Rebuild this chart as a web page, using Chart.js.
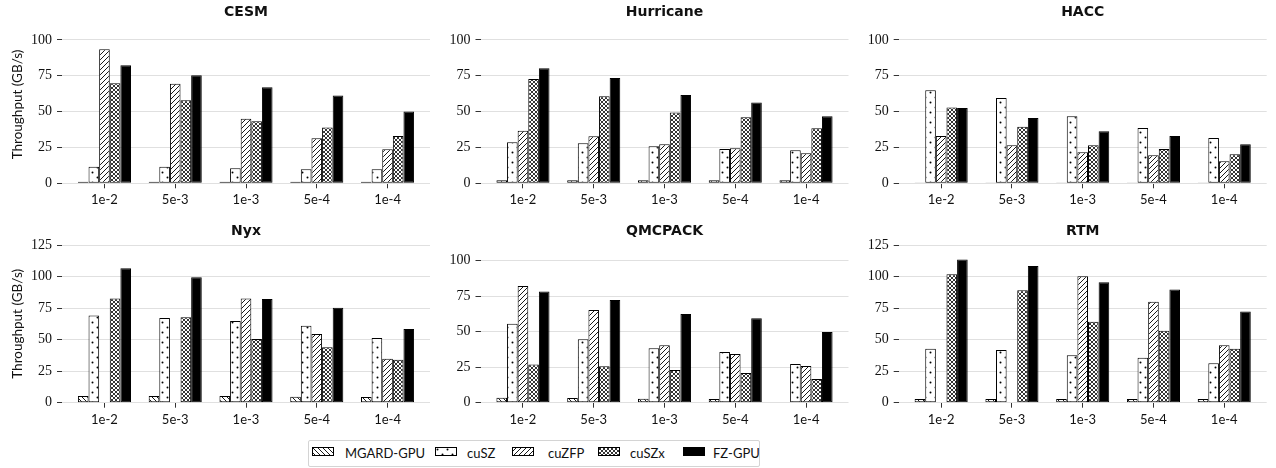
<!DOCTYPE html>
<html>
<head>
<meta charset="utf-8">
<script src="https://cdn.jsdelivr.net/npm/chart.js@4/dist/chart.umd.min.js"></script>
<style>
  html, body { margin: 0; padding: 0; background: #fff; }
  #fig { position: relative; width: 1276px; height: 468px; overflow: hidden; }
  #fig canvas.plot { position: absolute; }
  #legend { position: absolute; left: 308px; top: 440px; width: 452px; height: 27px; box-sizing: border-box;
            border: 1px solid #d4d4d4; border-radius: 2px; font-family: Lato, sans-serif; font-size: 13px; color: #111; }
  #legend canvas { position: absolute; top: 6px; }
  #legend span { position: absolute; top: 4px; line-height: 16px; white-space: nowrap; }
</style>
</head>
<body>
<div id="fig">
  <div id="legend"></div>
</div>
<script>
const errorBounds = ['1e-2', '5e-3', '1e-3', '5e-4', '1e-4'];
const compressors = ['MGARD-GPU', 'cuSZ', 'cuZFP', 'cuSZx', 'FZ-GPU'];
const ticksTop = [0, 25, 50, 75, 100];
const ticksBig = [0, 25, 50, 75, 100, 125];

// throughput in GB/s, one value per error bound
const cesmMgard = [1.1, 1.1, 1.1, 1.1, 1.1];
const cesmCusz  = [11.6, 11.6, 10.5, 9.8, 9.8];
const cesmCuzfp = [93.5, 69.5, 45.0, 31.4, 23.7];
const cesmCuszx = [69.8, 58.0, 43.3, 39.0, 33.0];
const cesmFzgpu = [82.3, 75.3, 67.0, 61.2, 50.0];

const hurrMgard = [2.1, 2.1, 2.1, 2.1, 2.1];
const hurrCusz  = [28.6, 27.9, 25.8, 24.0, 23.0];
const hurrCuzfp = [36.7, 32.8, 27.2, 24.4, 21.0];
const hurrCuszx = [72.8, 60.7, 49.3, 46.0, 38.4];
const hurrFzgpu = [80.2, 73.5, 61.6, 56.3, 46.7];

const haccMgard = [0.5, 0.5, 0.5, 0.5, 0.5];
const haccCusz  = [64.9, 59.5, 46.7, 38.6, 31.6];
const haccCuzfp = [33.0, 26.5, 21.6, 19.5, 15.3];
const haccCuszx = [52.8, 39.5, 26.5, 24.0, 20.2];
const haccFzgpu = [52.6, 45.6, 36.3, 33.0, 27.2];

const nyxMgard = [5.3, 5.3, 5.3, 4.8, 4.5];
const nyxCusz  = [69.2, 67.1, 64.7, 61.0, 51.3];
const nyxCuzfp = [null, null, 82.5, 54.4, 34.9];
const nyxCuszx = [82.5, 67.7, 50.5, 43.9, 34.1];
const nyxFzgpu = [106.5, 99.4, 82.2, 75.3, 58.4];

const qmcMgard = [3.5, 3.3, 2.8, 2.6, null];
const qmcCusz  = [55.6, 44.6, 38.3, 35.7, 27.2];
const qmcCuzfp = [82.2, 65.3, 40.4, 34.3, 25.8];
const qmcCuszx = [26.8, 25.6, 23.0, 20.9, 16.7];
const qmcFzgpu = [78.2, 72.3, 62.4, 59.4, 49.8];

const rtmMgard = [2.9, 2.9, 2.9, 2.9, 2.9];
const rtmCusz  = [42.7, 41.7, 37.7, 35.6, 31.3];
const rtmCuzfp = [null, null, 100.3, 80.1, 45.6];
const rtmCuszx = [101.9, 89.2, 64.2, 57.0, 42.7];
const rtmFzgpu = [113.6, 108.3, 95.5, 89.7, 72.2];

const hatchKinds = ['back', 'dots', 'slash', 'cross', 'solid'];

function makeFill(ctx, kind) {
  if (kind === 'solid') return '#000';
  const t = document.createElement('canvas');
  const s = kind === 'dots' ? 10 : (kind === 'cross' ? 4 : 5);
  t.width = s; t.height = s;
  const g = t.getContext('2d');
  g.fillStyle = '#fff';
  g.fillRect(0, 0, s, s);
  g.strokeStyle = '#000';
  g.fillStyle = '#000';
  g.lineWidth = kind === 'cross' ? 0.8 : 0.9;
  const back = () => {
    g.beginPath();
    g.moveTo(-1, -1); g.lineTo(s + 1, s + 1);
    g.moveTo(s - 1, -1); g.lineTo(s + 1, 1);
    g.moveTo(-1, s - 1); g.lineTo(1, s + 1);
    g.stroke();
  };
  const slash = () => {
    g.beginPath();
    g.moveTo(-1, s + 1); g.lineTo(s + 1, -1);
    g.moveTo(-1, 1); g.lineTo(1, -1);
    g.moveTo(s - 1, s + 1); g.lineTo(s + 1, s - 1);
    g.stroke();
  };
  if (kind === 'back') back();
  if (kind === 'slash') slash();
  if (kind === 'cross') { back(); slash(); }
  if (kind === 'dots') {
    g.beginPath(); g.arc(2.5, 2.5, 1.0, 0, Math.PI * 2); g.fill();
    g.beginPath(); g.arc(7.5, 7.5, 1.0, 0, Math.PI * 2); g.fill();
  }
  return ctx.createPattern(t, 'repeat');
}

const plotW = 368;
const titleSize = 14;
const titleBox = titleSize * 1.2 + 5;
const fig = document.getElementById('fig');

const panels = [
  { title: 'CESM', series: [cesmMgard, cesmCusz, cesmCuzfp, cesmCuszx, cesmFzgpu], yMax: 110, yTicks: ticksTop,
    x: 0, y: 0, w: 434, h: 212, plotLeft: 62, plotTop: 25.6, plotBottom: 183.3, ylabel: true },
  { title: 'Hurricane', series: [hurrMgard, hurrCusz, hurrCuzfp, hurrCuszx, hurrFzgpu], yMax: 110, yTicks: ticksTop,
    x: 440, y: 0, w: 413, h: 212, plotLeft: 480.5, plotTop: 25.6, plotBottom: 183.3, ylabel: false },
  { title: 'HACC', series: [haccMgard, haccCusz, haccCuzfp, haccCuszx, haccFzgpu], yMax: 110, yTicks: ticksTop,
    x: 858, y: 0, w: 413, h: 212, plotLeft: 898.7, plotTop: 25.6, plotBottom: 183.3, ylabel: false },
  { title: 'Nyx', series: [nyxMgard, nyxCusz, nyxCuzfp, nyxCuszx, nyxFzgpu], yMax: 125, yTicks: ticksBig,
    x: 0, y: 220, w: 434, h: 212, plotLeft: 62, plotTop: 245, plotBottom: 402.7, ylabel: true },
  { title: 'QMCPACK', series: [qmcMgard, qmcCusz, qmcCuzfp, qmcCuszx, qmcFzgpu], yMax: 111, yTicks: ticksTop,
    x: 440, y: 220, w: 413, h: 212, plotLeft: 480.5, plotTop: 245, plotBottom: 402.7, ylabel: false },
  { title: 'RTM', series: [rtmMgard, rtmCusz, rtmCuzfp, rtmCuszx, rtmFzgpu], yMax: 125, yTicks: ticksBig,
    x: 858, y: 220, w: 413, h: 212, plotLeft: 898.7, plotTop: 245, plotBottom: 402.7, ylabel: false }
];

panels.forEach(p => {
  const canvas = document.createElement('canvas');
  canvas.className = 'plot';
  canvas.width = p.w;
  canvas.height = p.h;
  canvas.style.left = p.x + 'px';
  canvas.style.top = p.y + 'px';
  fig.appendChild(canvas);
  const ctx = canvas.getContext('2d');

  const axisW = p.plotLeft - p.x;
  const xAxisH = p.y + p.h - p.plotBottom;
  const padTop = p.plotTop - p.y - titleBox;
  const padRight = p.x + p.w - (p.plotLeft + plotW);

  new Chart(ctx, {
    type: 'bar',
    data: {
      datasets: p.series.map((vals, k) => ({
        label: compressors[k],
        data: vals.map((v, i) => ({ x: i, y: v })),
        backgroundColor: makeFill(ctx, hatchKinds[k]),
        borderColor: '#000',
        borderWidth: 1,
        borderSkipped: false,
        categoryPercentage: 0.75,
        barPercentage: 1
      }))
    },
    options: {
      responsive: false,
      animation: false,
      layout: { padding: { top: padTop, right: padRight, left: 0, bottom: 0 } },
      scales: {
        x: {
          type: 'linear',
          min: -0.6,
          max: 4.6,
          offset: false,
          afterBuildTicks: ax => { ax.ticks = errorBounds.map((_, i) => ({ value: i })); },
          afterFit: ax => { ax.height = xAxisH; },
          grid: { display: true, drawOnChartArea: false, drawTicks: true, tickLength: 5, tickColor: '#333', offset: false },
          border: { display: false },
          ticks: {
            callback: v => errorBounds[v],
            autoSkip: false,
            maxRotation: 0,
            padding: 4,
            color: '#111',
            font: { family: 'Lato', size: 13 }
          }
        },
        y: {
          min: 0,
          max: p.yMax,
          afterBuildTicks: ax => { ax.ticks = p.yTicks.map(v => ({ value: v })); },
          afterFit: ax => { ax.width = axisW; },
          grid: { color: '#e0e0e0', lineWidth: 1, tickColor: '#333', tickLength: 5 },
          border: { display: false },
          ticks: { padding: 5, color: '#111', font: { family: 'Liberation Serif', size: 14 } },
          title: {
            display: p.ylabel,
            text: 'Throughput (GB/s)',
            color: '#111',
            font: { family: 'Lato', size: 13.5 },
            padding: { top: 10, bottom: 0 }
          }
        }
      },
      plugins: {
        legend: { display: false },
        tooltip: { enabled: false },
        title: {
          display: true,
          fullSize: false,
          text: p.title,
          color: '#111',
          font: { family: 'DejaVu Sans', size: titleSize, weight: 'bold' },
          padding: { top: 0, bottom: 5 }
        }
      }
    }
  });
});

// legend at the bottom
const legend = document.getElementById('legend');
const swatchX = [3, 126, 203, 289, 374];
const textX = [36, 158, 239, 321, 404];
compressors.forEach((name, k) => {
  const sw = document.createElement('canvas');
  sw.width = 22; sw.height = 9;
  sw.style.left = swatchX[k] + 'px';
  legend.appendChild(sw);
  const g = sw.getContext('2d');
  g.fillStyle = makeFill(g, hatchKinds[k]);
  g.fillRect(0, 0, 22, 9);
  g.strokeStyle = '#000';
  g.lineWidth = 1;
  g.strokeRect(0.5, 0.5, 21, 8);
  const label = document.createElement('span');
  label.textContent = name;
  label.style.left = textX[k] + 'px';
  legend.appendChild(label);
});
</script>
</body>
</html>
